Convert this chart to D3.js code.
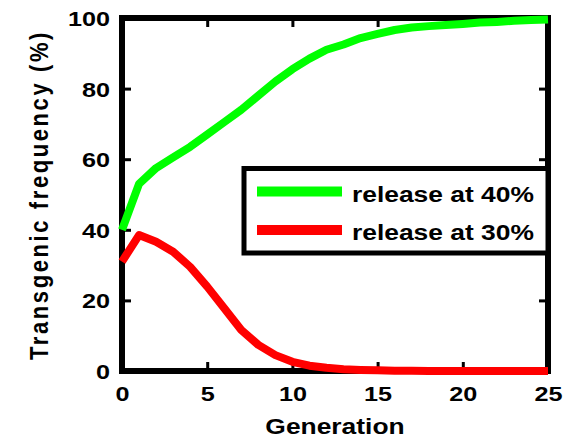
<!DOCTYPE html>
<html>
<head>
<meta charset="utf-8">
<script src="https://cdn.jsdelivr.net/npm/d3@7"></script>
<style>
  body { margin: 0; background: #fff; }
  text { font-family: "Liberation Sans", Arial, sans-serif; font-weight: bold; fill: #000; }
</style>
</head>
<body>
<div id="chart"></div>
<script>
const generations = [0, 1, 2, 3, 4, 5, 6, 7, 8, 9, 10, 11, 12, 13, 14, 15, 16, 17, 18, 19, 20, 21, 22, 23, 24, 25];
const release40 = [40, 53, 57.5, 60.5, 63.5, 67, 70.5, 74, 78, 82, 85.5, 88.5, 91, 92.5, 94.3, 95.5, 96.6, 97.3, 97.7, 98, 98.3, 98.7, 98.9, 99.2, 99.4, 99.6];
const release30 = [31, 38.5, 36.6, 33.8, 29.5, 23.9, 17.8, 11.6, 7.4, 4.5, 2.6, 1.5, 0.9, 0.5, 0.3, 0.2, 0.1, 0.1, 0, 0, 0, 0, 0, 0, 0, 0];
const xTicks = [0, 5, 10, 15, 20, 25];
const yTicks = [0, 20, 40, 60, 80, 100];
const seriesNames = ["release at 40%", "release at 30%"];
const seriesColors = ["#00ff00", "#ff0000"];

const WIDTH = 568, HEIGHT = 441;
const STRETCH = 1.2; // text in the original looks widened horizontally

const svg = d3.select("#chart")
    .append("svg")
        .attr("width", WIDTH)
        .attr("height", HEIGHT);

const x = d3.scaleLinear().domain([0, 25]).range([122, 548]);
const y = d3.scaleLinear().domain([0, 100]).range([371, 18]);

// inward ticks on all four sides
function tickAxis(axis, transform) {
    let g = svg.append("g")
        .attr("transform", transform)
        .call(axis);
    g.select(".domain").remove();
    g.selectAll(".tick line").attr("stroke", "#000").attr("stroke-width", 3);
    return g;
}

let axisB = tickAxis(d3.axisBottom(x).tickValues(xTicks).tickSize(-9).tickSizeOuter(0), `translate(0,${y(0)})`);
axisB.selectAll(".tick text")
    .attr("y", 30)
    .attr("dy", null)
    .attr("font-size", 21)
    .attr("transform", `scale(${STRETCH},1)`);

let axisL = tickAxis(d3.axisLeft(y).tickValues(yTicks).tickSize(-9).tickSizeOuter(0), `translate(${x(0)},0)`);
axisL.selectAll(".tick text")
    .attr("x", -10)
    .attr("dy", "0.36em")
    .attr("font-size", 21)
    .attr("transform", `scale(${STRETCH},1)`);

let axisT = tickAxis(d3.axisTop(x).tickValues(xTicks).tickSize(-9).tickSizeOuter(0), `translate(0,${y(100)})`);
axisT.selectAll("text").remove();
let axisR = tickAxis(d3.axisRight(y).tickValues(yTicks).tickSize(-9).tickSizeOuter(0), `translate(${x(25)},0)`);
axisR.selectAll("text").remove();

// frame
svg.append("rect")
    .attr("x", x(0))
    .attr("y", y(100))
    .attr("width", x(25) - x(0))
    .attr("height", y(0) - y(100))
    .attr("fill", "none")
    .attr("stroke", "#000")
    .attr("stroke-width", 6);

// curves
const line = d3.line()
    .x((d, i) => x(generations[i]))
    .y(d => y(d));

[release40, release30].forEach((vals, i) => {
    svg.append("path")
        .datum(vals)
        .attr("d", line)
        .attr("fill", "none")
        .attr("stroke", seriesColors[i])
        .attr("stroke-width", 8)
        .attr("stroke-linejoin", "round");
});

// legend
let legend = svg.append("g");
legend.append("rect")
    .attr("x", 244)
    .attr("y", 168.5)
    .attr("width", x(25) - 244)
    .attr("height", 84.5)
    .attr("fill", "#fff")
    .attr("stroke", "#000")
    .attr("stroke-width", 5);

const legendY = [191.5, 230];
seriesNames.forEach((name, i) => {
    legend.append("line")
        .attr("x1", 257)
        .attr("x2", 342)
        .attr("y1", legendY[i])
        .attr("y2", legendY[i])
        .attr("stroke", seriesColors[i])
        .attr("stroke-width", 10);
    legend.append("text")
        .attr("transform", `translate(352,${legendY[i] + 10}) scale(${STRETCH},1)`)
        .attr("font-size", 22)
        .text(name);
});

// axis titles
svg.append("text")
    .attr("transform", `translate(335,434) scale(${STRETCH},1)`)
    .attr("text-anchor", "middle")
    .attr("font-size", 22)
    .text("Generation");

svg.append("text")
    .attr("transform", `translate(48,195) scale(${STRETCH},1) rotate(-90)`)
    .attr("text-anchor", "middle")
    .attr("font-size", 22)
    .attr("letter-spacing", 2.6)
    .text("Transgenic frequency (%)");
</script>
</body>
</html>
